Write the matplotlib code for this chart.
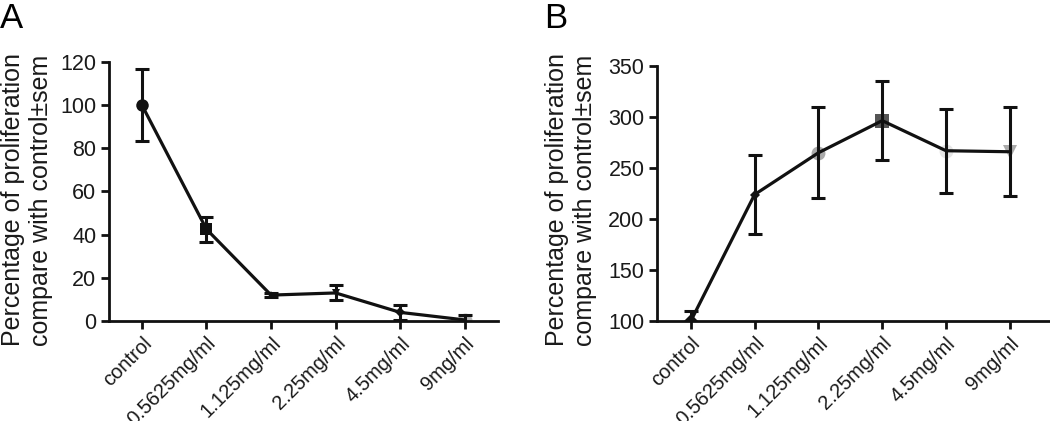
import matplotlib
matplotlib.use("Agg")
import matplotlib.pyplot as plt

plt.rcParams["font.family"] = ["Liberation Sans", "DejaVu Sans"]

categories = ["control", "0.5625mg/ml", "1.125mg/ml", "2.25mg/ml", "4.5mg/ml", "9mg/ml"]

a_mean = [100, 42.5, 12, 13, 4, 0.5]
a_sem = [16.5, 5.8, 1.0, 3.5, 3.5, 2.5]
a_markers = ["o", "s", "^", "v", "D", "o"]
a_msizes = [9, 9, 6, 6, 5, 10]
a_colors = ["#111111", "#111111", "#111111", "#111111", "#111111", "#bbbbbb"]

b_mean = [100, 224, 265, 296.5, 267, 266]
b_sem = [10, 39, 44.5, 39, 41, 43.5]
b_markers = ["D", "D", "o", "s", "o", "v"]
b_msizes = [7, 5, 10, 10, 10, 10]
b_colors = ["#111111", "#111111", "#aaaaaa", "#555555", "#e6e6e6", "#aaaaaa"]

ylabel = "Percentage of proliferation\ncompare with control\u00b1sem"

fig = plt.figure(figsize=(10.5, 4.21), dpi=100)
axA = fig.add_axes([0.1038, 0.2375, 0.474 - 0.1038, 0.853 - 0.2375])
axB = fig.add_axes([0.6257, 0.2375, 1.0 - 0.6257, 0.843 - 0.2375])

def draw(ax, mean, sem, markers, sizes, colors, ylim, yticks, xlim):
    x = list(range(len(categories)))
    for xi, m, c, mk, ms in zip(x, mean, colors, markers, sizes):
        ax.plot([xi], [m], marker=mk, markersize=ms, color=c, zorder=2, markeredgewidth=0)
    ax.errorbar(x, mean, yerr=sem, fmt="none", ecolor="#111111", elinewidth=2.2,
                capsize=5, capthick=2.2, zorder=3)
    ax.plot(x, mean, color="#111111", lw=2.3, zorder=4)
    ax.set_xlim(*xlim)
    ax.set_ylim(*ylim)
    ax.set_yticks(yticks)
    ax.set_xticks(x)
    ax.set_xticklabels(categories, rotation=45, ha="right", rotation_mode="anchor", fontsize=14.5)
    ax.tick_params(axis="y", labelsize=15.5, width=2, length=6, color="#111111", pad=3)
    ax.tick_params(axis="x", width=2, length=6, color="#111111", pad=3)
    for s in ["top", "right"]:
        ax.spines[s].set_visible(False)
    for s in ["left", "bottom"]:
        ax.spines[s].set_linewidth(2)
        ax.spines[s].set_color("#111111")
    ax.spines["bottom"].set_clip_on(False)
    for lab in ax.get_xticklabels() + ax.get_yticklabels():
        lab.set_color("#1a1a1a")

draw(axA, a_mean, a_sem, a_markers, a_msizes, a_colors, (0, 120), range(0, 121, 20), (-0.51, 5.51))
draw(axB, b_mean, b_sem, b_markers, b_msizes, b_colors, (100, 350), range(100, 351, 50), (-0.53, 5.63))

for xc in (27, 571):
    fig.text(xc / 1050, 1 - 200 / 421, ylabel, rotation=90, ha="center", va="center",
             multialignment="center", fontsize=18, linespacing=1.2, color="#1a1a1a")

fig.text(0.0, 0.995, "A", fontsize=25, va="top", ha="left")
fig.text(0.518, 0.995, "B", fontsize=25, va="top", ha="left")

fig.savefig("out.png", dpi=100)
